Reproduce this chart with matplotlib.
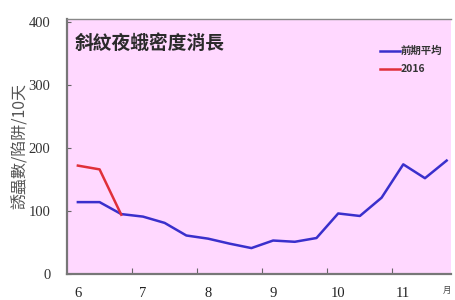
import matplotlib.pyplot as plt

# 10-day periods, June (6) to November (11), three per month
dekads = list(range(18))
month_labels = ["6", "7", "8", "9", "10", "11"]

# insects per trap per 10 days
avg_prev = [114, 114, 95, 91, 81, 61, 56, 48, 41, 53, 51, 57, 96, 92, 121, 174, 152, 180]
year_2016 = [172, 166, 94]

CJK = ["Noto Sans CJK TC", "DejaVu Sans"]
SERIF = ["Liberation Serif", "DejaVu Serif"]

fig = plt.figure(figsize=(4.56, 3.0), dpi=100)
ax = fig.add_axes([0.147, 0.087, 0.842, 0.85])
ax.set_facecolor("#ffd8ff")

ax.plot(dekads, avg_prev, color="#3a2fcc", lw=1.8, label="前期平均")
ax.plot(dekads[:len(year_2016)], year_2016, color="#e0303a", lw=1.8, label="2016")

ax.set_xlim(-0.5, 17.2)
ax.set_ylim(0, 405)

# month labels under first dekad, ticks at month boundaries
ax.set_xticks([2.5, 5.5, 8.5, 11.5, 14.5])
ax.set_xticklabels([])
ax.tick_params(axis="x", direction="in", length=4, color="#666")
for i, m in enumerate(month_labels):
    ax.text(i * 3, -0.075, m, transform=ax.get_xaxis_transform(),
            ha="center", va="center", fontsize=10.5, family=SERIF, color="#222")
ax.text(1.0, -0.065, "月", transform=ax.transAxes, ha="right", va="center",
        fontsize=6, family=CJK, color="#444")

ax.set_yticks([0, 100, 200, 300, 400])
ax.set_yticklabels(["0", "100", "200", "300", "400"], family=SERIF, fontsize=10.5, color="#333")
ax.tick_params(axis="y", direction="in", length=3, color="#666", pad=12)

for s in ["left", "bottom"]:
    ax.spines[s].set_color("#777")
    ax.spines[s].set_linewidth(1.6)
ax.spines["top"].set_color("#888")
ax.spines["top"].set_linewidth(1.0)
ax.spines["right"].set_visible(False)

ax.set_ylabel("誘蟲數/陷阱/10天", family=CJK, fontsize=11.5, color="#555", labelpad=0)

ax.text(0.02, 0.94, "斜紋夜蛾密度消長", transform=ax.transAxes, ha="left", va="top",
        fontsize=13.5, fontweight="bold", family=CJK, color="#2a2a2a")

leg = ax.legend(loc="upper left", bbox_to_anchor=(0.79, 0.93), frameon=False,
                handlelength=1.9, handletextpad=0.1, labelspacing=0.75,
                prop={"family": CJK, "size": 7.5, "weight": "bold"})
for t in leg.get_texts():
    t.set_color("#333")

fig.savefig("out.png", dpi=100)
